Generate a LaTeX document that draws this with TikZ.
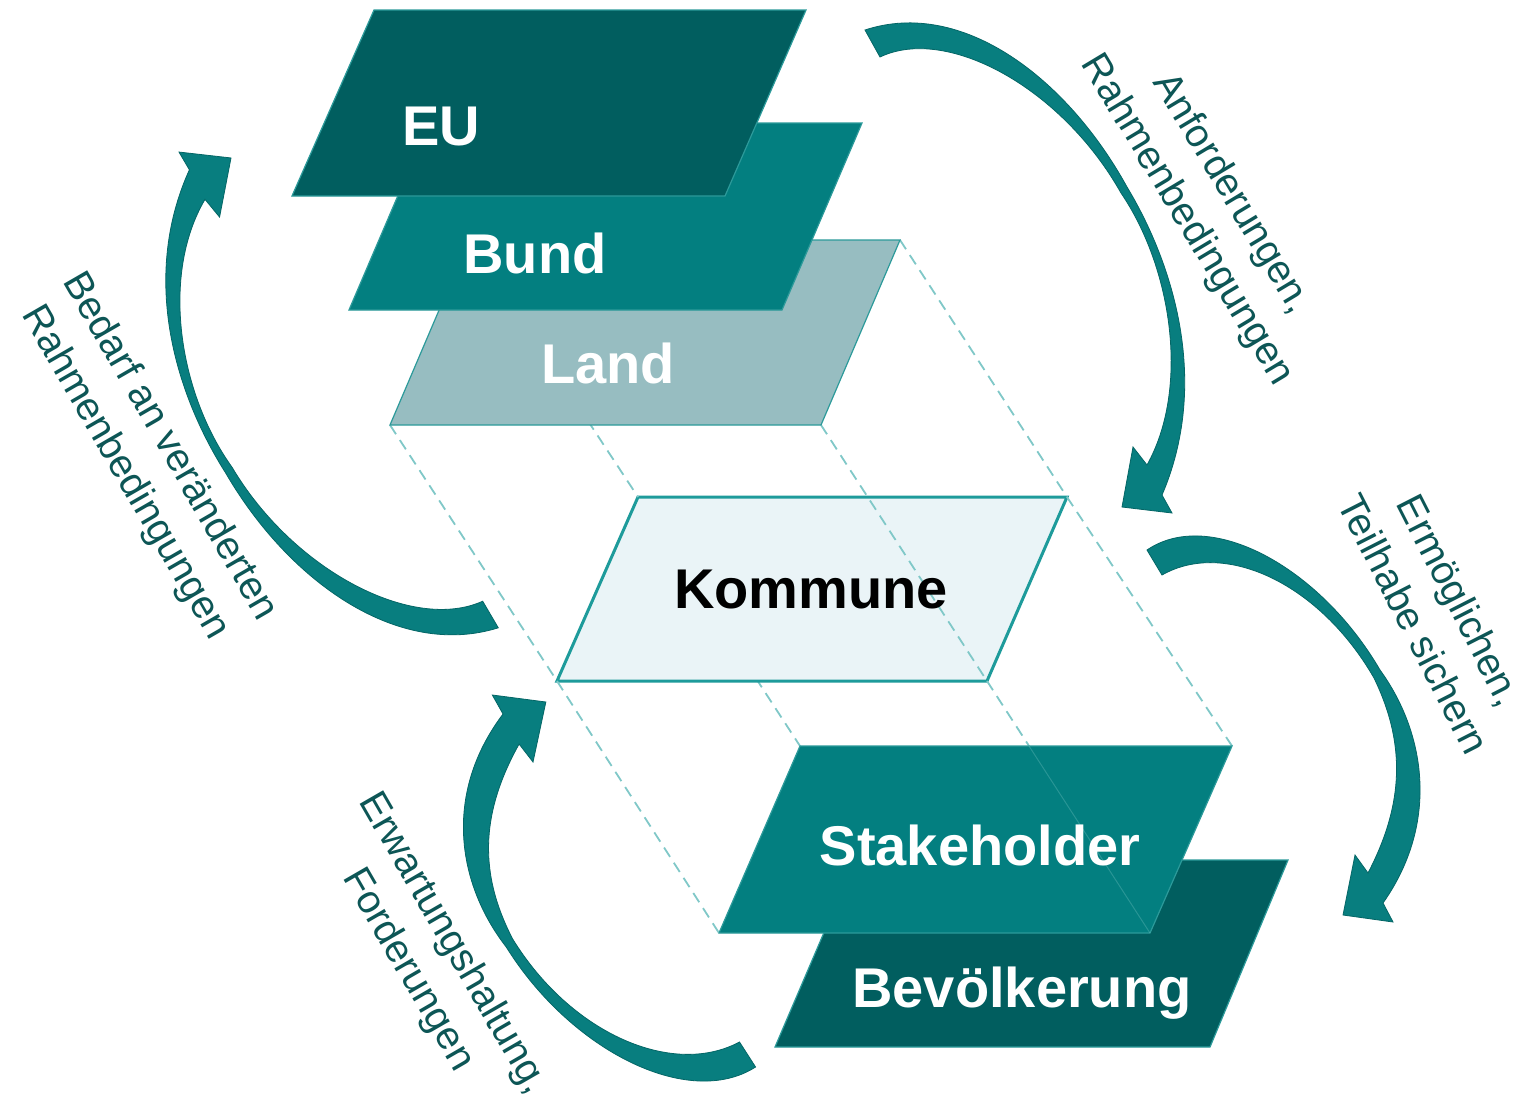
\documentclass[tikz,border=0pt]{standalone}
\usepackage{fontspec}
\setmainfont{Liberation Sans}
\definecolor{euc}{HTML}{015E5F}
\definecolor{bundc}{HTML}{037F80}
\definecolor{landc}{HTML}{97BDC1}
\definecolor{kommc}{HTML}{EAF4F7}
\definecolor{kommb}{HTML}{1E9B9B}
\definecolor{edgec}{HTML}{2C9A9A}
\definecolor{dashc}{HTML}{80C8C8}
\definecolor{labc}{HTML}{0D5656}
\definecolor{arrc}{HTML}{087E7F}
\definecolor{arrd}{HTML}{046666}
\begin{document}
\begin{tikzpicture}[x=1pt,y=-1pt,
  plate/.style={draw=edgec, line width=1.2pt},
  guide/.style={draw=dashc, line width=1.8pt, dash pattern=on 11pt off 7pt},
  boxlabel/.style={font=\fontsize{56}{60}\selectfont\bfseries, text=white, anchor=base, inner sep=0pt},
  sidelabel/.style={font=\fontsize{39.5}{52}\selectfont, text=labc, align=center, inner sep=0pt},
  bigarrow/.style={fill=arrc, draw=arrd, line width=0.8pt}]
\useasboundingbox (0,0) rectangle (1525,1101);
\fill[white] (0,0) rectangle (1525,1101);

% corners
\coordinate (EUtl) at (374,10);  \coordinate (EUtr) at (806,10);
\coordinate (EUbr) at (725,196); \coordinate (EUbl) at (292,196);
\coordinate (BDtl) at (429,123); \coordinate (BDtr) at (862,123);
\coordinate (BDbr) at (782,310); \coordinate (BDbl) at (349,310);
\coordinate (LDtl) at (469,240); \coordinate (LDtr) at (900,240);
\coordinate (LDbr) at (821,425); \coordinate (LDbl) at (390,425);
\coordinate (KMtl) at (638,497); \coordinate (KMtr) at (1067,497);
\coordinate (KMbr) at (987,681); \coordinate (KMbl) at (557,681);
\coordinate (STtl) at (800,746); \coordinate (STtr) at (1232,746);
\coordinate (STbr) at (1150,933); \coordinate (STbl) at (719,933);
\coordinate (BVtl) at (855,860); \coordinate (BVtr) at (1288,860);
\coordinate (BVbr) at (1210,1047); \coordinate (BVbl) at (775,1047);
\coordinate (STin) at (1029,746);

% guide hidden under Kommune
\draw[guide] (KMtl) -- (STtl);
% Kommune plate
\filldraw[fill=kommc, draw=kommb, line width=3pt] (KMtl) -- (KMtr) -- (KMbr) -- (KMbl) -- cycle;
% guides
\draw[guide] (LDtl) -- (KMtl);
\draw[guide] (LDtr) -- (KMtr);
\draw[guide] (LDbl) -- (KMbl);
\draw[guide] (LDbr) -- (KMbr);
\draw[guide] (KMtr) -- (STtr);
\draw[guide] (KMbl) -- (STbl);
\draw[guide] (KMbr) -- (STbr);

% upper stack
\filldraw[plate, fill=landc] (LDtl) -- (LDtr) -- (LDbr) -- (LDbl) -- cycle;
\filldraw[plate, fill=bundc] (BDtl) -- (BDtr) -- (BDbr) -- (BDbl) -- cycle;
\filldraw[plate, fill=euc] (EUtl) -- (EUtr) -- (EUbr) -- (EUbl) -- cycle;

% lower stack
\filldraw[plate, fill=euc] (BVtl) -- (BVtr) -- (BVbr) -- (BVbl) -- cycle;
\filldraw[plate, fill=bundc] (STtl) -- (STtr) -- (STbr) -- (STbl) -- cycle;
\draw[dashc, opacity=0.3, line width=1pt] (STin) -- (STbr);

% arrows
\def\shapeA{(-7,-13) .. controls (90,-45) and (195,35) .. (255,144)
  .. controls (302,222) and (338,340) .. (290,452) -- (300,470) -- (250,464)
  -- (261,404) -- (275,422) .. controls (318,345) and (300,225) .. (249,150)
  .. controls (190,45) and (75,-18) .. (8,14) -- cycle}
\def\shapeB{(-8,-12) .. controls (55,-55) and (165,5) .. (225,108)
  .. controls (270,170) and (285,260) .. (228,341) -- (238,360) -- (188,353)
  -- (200,293) -- (213,311) .. controls (250,240) and (250,180) .. (219,116)
  .. controls (165,22) and (70,-23) .. (7,13) -- cycle}
\begin{scope}[shift={(872,43)}]
  \filldraw[bigarrow] \shapeA;
\end{scope}
\begin{scope}[shift={(491,615)}, rotate=180, xscale=1.04, yscale=0.985]
  \filldraw[bigarrow] \shapeA;
\end{scope}
\begin{scope}[shift={(1155,562)}]
  \filldraw[bigarrow] \shapeB;
\end{scope}
\begin{scope}[shift={(747,1055)}, rotate=180, xscale=1.07]
  \filldraw[bigarrow] \shapeB;
\end{scope}

% plate labels
\node[boxlabel] (eu) at (441,145) {EU};
\node[boxlabel] (bund) at (535,273) {Bund};
\node[boxlabel] (land) at (608,383) {Land};
\node[boxlabel, text=black] (kommune) at (811,608) {Kommune};
\node[boxlabel] (stake) at (980,865) {Stakeholder};
\node[boxlabel] (bevoelk) at (1022,1007) {Bevölkerung};

% side labels
\node[sidelabel, rotate=-59] (anf) at (1209,207) {Anforderungen,\\Rahmenbedingungen};
\node[sidelabel, rotate=-63] (erm) at (1437,612) {Ermöglichen,\\Teilhabe sichern};
\node[sidelabel, rotate=-60] (bed) at (147,460) {Bedarf an veränderten\\Rahmenbedingungen};
\node[sidelabel, rotate=-60] (erw) at (430,957) {Erwartungshaltung,\\Forderungen};
\end{tikzpicture}
\end{document}
